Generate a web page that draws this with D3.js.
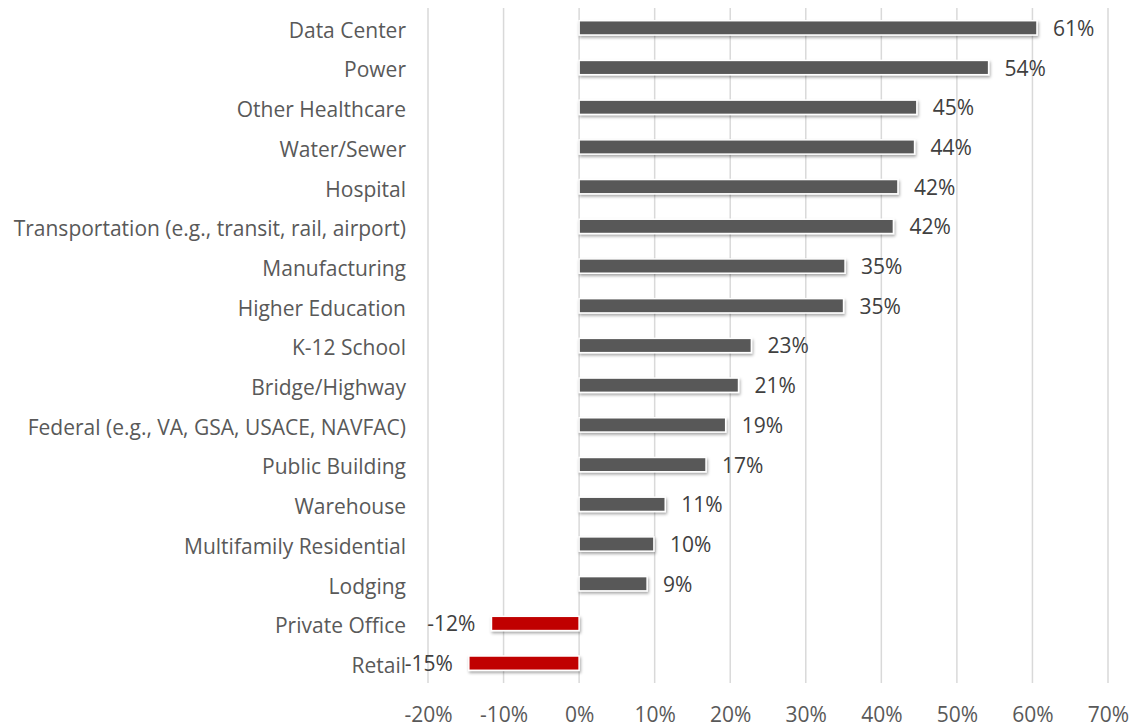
<!DOCTYPE html>
<html>
<head>
<meta charset="utf-8">
<script src="https://cdn.jsdelivr.net/npm/d3@7"></script>
<style>
  body { margin: 0; background: #fff; }
  svg { display: block; font-family: "Open Sans", sans-serif; }
</style>
</head>
<body>
<div id="chart"></div>
<script>
// Categories, top to bottom
const categories = [
    "Data Center", "Power", "Other Healthcare", "Water/Sewer", "Hospital",
    "Transportation (e.g., transit, rail, airport)", "Manufacturing",
    "Higher Education", "K-12 School", "Bridge/Highway",
    "Federal (e.g., VA, GSA, USACE, NAVFAC)", "Public Building", "Warehouse",
    "Multifamily Residential", "Lodging", "Private Office", "Retail"
];
// Net share
const values = [
    0.606, 0.542, 0.447, 0.444, 0.422, 0.416, 0.352, 0.350, 0.228, 0.211,
    0.194, 0.168, 0.114, 0.099, 0.090, -0.116, -0.146
];
const xTicks = [-0.2, -0.1, 0, 0.1, 0.2, 0.3, 0.4, 0.5, 0.6, 0.7];

const width = 1131, height = 728;
const margin = {top: 8, right: 23, bottom: 45, left: 428};

// plain hyphen for negatives, like the original
const pct = d => d3.format(".0%")(d).replace("\u2212", "-");

const svg = d3.select("#chart").append("svg")
    .attr("width", width)
    .attr("height", height);

// soft shadow under bars
const defs = svg.append("defs");
const f = defs.append("filter").attr("id", "shadow")
    .attr("x", "-10%").attr("y", "-50%").attr("width", "120%").attr("height", "200%");
f.append("feDropShadow")
    .attr("dx", 1).attr("dy", 2).attr("stdDeviation", 1.5)
    .attr("flood-color", "#000").attr("flood-opacity", 0.35);

const x = d3.scaleLinear()
    .domain([-0.2, 0.7])
    .range([margin.left, width - margin.right]);

const y = d3.scaleBand()
    .domain(categories)
    .range([margin.top, height - margin.bottom])
    .paddingInner(0.64)
    .paddingOuter(0.32);

// gridlines
svg.append("g")
    .selectAll("line")
    .data(xTicks)
    .enter().append("line")
        .attr("x1", d => x(d)).attr("x2", d => x(d))
        .attr("y1", margin.top).attr("y2", height - margin.bottom)
        .attr("stroke", "#d9d9d9")
        .attr("stroke-width", 1.5);

// x axis labels
const xAxis = svg.append("g")
    .attr("transform", `translate(0, ${height - margin.bottom})`)
    .call(d3.axisBottom(x).tickValues(xTicks).tickFormat(pct).tickSize(0).tickPadding(24));
xAxis.select(".domain").remove();
xAxis.selectAll("text")
    .attr("fill", "#595959")
    .style("font-size", "21px")
    .style("font-family", "'Open Sans', sans-serif");

// bars
svg.append("g")
    .selectAll("rect")
    .data(categories)
    .enter().append("rect")
        .attr("x", (d, i) => x(Math.min(0, values[i])))
        .attr("y", d => y(d))
        .attr("width", (d, i) => Math.abs(x(values[i]) - x(0)))
        .attr("height", y.bandwidth())
        .attr("fill", (d, i) => values[i] < 0 ? "#c00000" : "#595959")
        .attr("stroke", "#fff")
        .attr("stroke-width", 1.5)
        .attr("filter", "url(#shadow)");

// value labels
svg.append("g")
    .selectAll("text")
    .data(categories)
    .enter().append("text")
        .attr("x", (d, i) => values[i] < 0 ? x(values[i]) - 16 : x(values[i]) + 16)
        .attr("y", d => y(d) + y.bandwidth() / 2)
        .attr("dy", "0.38em")
        .attr("text-anchor", (d, i) => values[i] < 0 ? "end" : "start")
        .attr("fill", "#404040")
        .style("font-size", "21px")
        .text((d, i) => pct(values[i]));

// category labels
svg.append("g")
    .selectAll("text")
    .data(categories)
    .enter().append("text")
        .attr("x", 406)
        .attr("y", d => y(d) + y.bandwidth() / 2)
        .attr("dy", "0.47em")
        .attr("text-anchor", "end")
        .attr("fill", "#595959")
        .style("font-size", "21px")
        .text(d => d);
</script>
</body>
</html>
